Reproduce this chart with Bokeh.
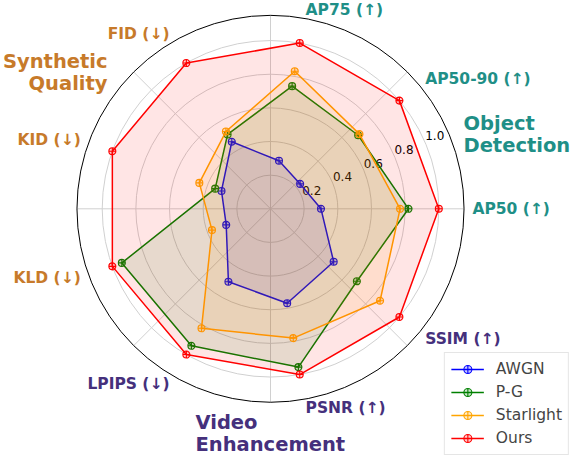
import numpy as np
from bokeh.plotting import figure
from bokeh.models import Range1d, Legend, LegendItem
from bokeh.core.properties import value
from bokeh.embed import file_html
from bokeh.resources import INLINE

# ---- data ----
categories = ["AP50 (↑)", "AP50-90 (↑)", "AP75 (↑)", "FID (↓)", "KID (↓)",
              "KLD (↓)", "LPIPS (↓)", "PSNR (↑)", "SSIM (↑)"]
cat_groups = ["det", "det", "det", "syn", "syn", "syn", "vid", "vid", "vid"]
awgn = [0.30, 0.23, 0.29, 0.46, 0.31, 0.28, 0.50, 0.57, 0.49]
pg = [0.82, 0.68, 0.74, 0.51, 0.35, 0.94, 0.94, 0.955, 0.67]
starlight = [0.77, 0.69, 0.83, 0.53, 0.45, 0.37, 0.82, 0.78, 0.85]
ours = [1.0, 1.0, 1.0, 1.0, 1.0, 1.0, 1.0, 1.0, 1.0]
series_names = ["AWGN", "P-G", "Starlight", "Ours"]
series_values = [awgn, pg, starlight, ours]
series_colors = ["blue", "green", "orange", "red"]
r_ticks = [0.2, 0.4, 0.6, 0.8, 1.0]
r_tick_labels = ["0.2", "0.4", "0.6", "0.8", "1.0"]
r_max = 1.15
group_colors = {"det": "#1f8f87", "syn": "#c77a2a", "vid": "#45307c"}
group_titles = [("det", ["Object", "Detection"], 1.228, 21.0, "left"),
                ("syn", ["Synthetic", "Quality"], 1.262, 140.1, "right"),
                ("vid", ["Video", "Enhancement"], 1.405, 251.5, "left")]

FONT = value("DejaVu Sans")
W, H = 570, 456
S = 168.3            # px per radial unit
CX, CY = 270.0, 208.3  # center in canvas px (from top-left)

p = figure(width=W, height=H, output_backend="svg", toolbar_location=None,
           x_range=Range1d(-CX / S, (W - CX) / S), y_range=Range1d(-(H - CY) / S, CY / S),
           x_axis_location=None, y_axis_location=None, min_border=0)
p.grid.visible = False
p.outline_line_color = None
p.background_fill_color = "white"

# grid rings and spokes
n = len(categories)
theta = np.deg2rad(np.arange(n) * 360.0 / n)
p.circle(x=[0] * len(r_ticks), y=[0] * len(r_ticks), radius=r_ticks,
         fill_color=None, line_color="#d0d0d0", line_width=1)
sp = np.deg2rad(np.arange(0, 360, 45))
p.segment(x0=0, y0=0, x1=r_max * np.cos(sp), y1=r_max * np.sin(sp),
          line_color="#d0d0d0", line_width=1)
p.circle(x=[0], y=[0], radius=[r_max], fill_color=None, line_color="black", line_width=1)

# tick labels
ta = np.deg2rad(24)
tr = np.array(r_ticks) + 11.5 / S
p.text(x=tr * np.cos(ta), y=tr * np.sin(ta), text=r_tick_labels, text_font=FONT,
       text_font_size="12px", text_color="black", text_align="center", text_baseline="middle")

# series
items = []
for name, vals, col in zip(series_names, series_values, series_colors):
    v = np.array(vals)
    xs = v * np.cos(theta)
    ys = v * np.sin(theta)
    p.patch(x=xs, y=ys, fill_color=col, fill_alpha=0.1, line_color=None)
    lr = p.line(x=np.append(xs, xs[0]), y=np.append(ys, ys[0]), line_color=col, line_width=1.5)
    sr = p.scatter(x=xs, y=ys, marker="circle_cross", size=7, line_color=col,
                   fill_color=col, fill_alpha=0.2, line_width=1.1)
    items.append(LegendItem(label=name, renderers=[lr, sr]))

# category labels
lr_ = 1.2
cx = lr_ * np.cos(theta)
cy = lr_ * np.sin(theta)
for i, cat in enumerate(categories):
    deg = i * 360.0 / n
    align = "left" if (deg < 90 or deg > 270) else "right"
    p.text(x=[cx[i]], y=[cy[i]], text=[cat], text_font=FONT, text_font_style="bold",
           text_font_size="15.5px", text_color=group_colors[cat_groups[i]],
           text_align=align, text_baseline="middle")

# group titles
dl = 11.0 / S
for g, lines, R, ang, align in group_titles:
    a = np.deg2rad(ang)
    gx, gy = R * np.cos(a), R * np.sin(a)
    p.text(x=[gx, gx], y=[gy + dl, gy - dl], text=lines, text_font=FONT, text_font_style="bold",
           text_font_size="19.5px", text_color=group_colors[g], text_align=align,
           text_baseline="middle")

legend = Legend(items=items, location="bottom_right", margin=1,
                label_text_font="DejaVu Sans", label_text_font_size="15.5px",
                glyph_width=33, glyph_height=20, label_height=20, spacing=3,
                padding=6, label_standoff=12, border_line_color="#cccccc",
                border_line_width=1, background_fill_alpha=0.85)
p.add_layout(legend)

open("out.html", "w").write(file_html(p, INLINE))
